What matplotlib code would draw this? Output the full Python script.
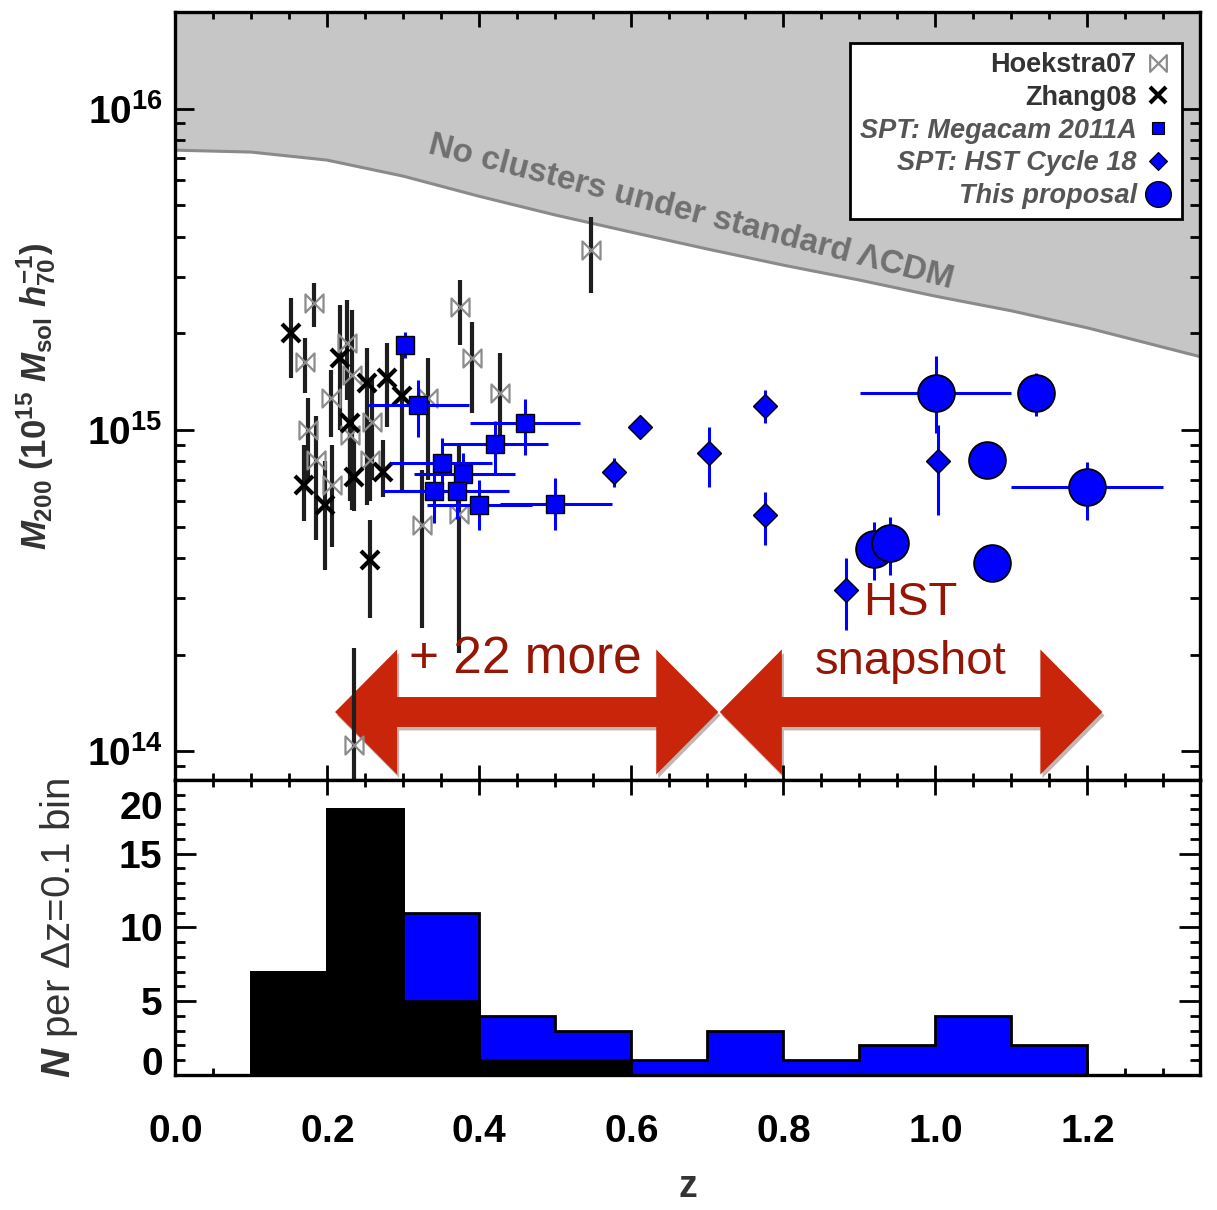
import numpy as np
import matplotlib
matplotlib.use("Agg")
import matplotlib.pyplot as plt
from matplotlib.path import Path
from matplotlib.lines import Line2D
from matplotlib.patches import Polygon
from matplotlib.transforms import blended_transform_factory, ScaledTranslation
from matplotlib.ticker import MultipleLocator, FixedLocator, LogLocator, FuncFormatter, NullFormatter
import matplotlib.patheffects as pe

plt.rcParams['font.family'] = ['Liberation Sans', 'DejaVu Sans']
plt.rcParams['mathtext.fontset'] = 'custom'
plt.rcParams['mathtext.rm'] = 'Liberation Sans:bold'
plt.rcParams['mathtext.it'] = 'Liberation Sans:bold:italic'
plt.rcParams['mathtext.bf'] = 'Liberation Sans:bold'

# ---------------- data (masses in units of 1e15 Msol/h70) ----------------
# Hoekstra 2007 weak-lensing clusters
hoek_z = [0.183, 0.171, 0.205, 0.175, 0.186, 0.206, 0.226, 0.233, 0.230, 0.259,
          0.257, 0.333, 0.375, 0.390, 0.428, 0.325, 0.373, 0.547, 0.236]
hoek_m = [2.48, 1.63, 1.26, 1.00, 0.807, 0.675, 1.86, 1.48, 0.965, 1.06,
          0.807, 1.26, 2.41, 1.67, 1.30, 0.506, 0.548, 3.63, 0.105]
hoek_lo = [2.09, 1.30, 0.951, 0.70, 0.455, 0.433, 1.24, 0.564, 0.60, 0.70,
           0.60, 0.70, 1.84, 1.13, 0.911, 0.242, 0.2025, 2.67, 0.0759]
hoek_hi = [2.87, 1.93, 1.54, 1.26, 1.11, 0.898, 2.54, 2.36, 1.30, 1.45,
           1.06, 1.67, 2.93, 2.17, 1.74, 0.751, 0.898, 4.61, 0.210]

# Zhang 2008 clusters
zhang_z = [0.152, 0.217, 0.253, 0.279, 0.299, 0.230, 0.274, 0.169, 0.235, 0.197, 0.257]
zhang_m = [2.00, 1.67, 1.40, 1.45, 1.28, 1.05, 0.740, 0.675, 0.714, 0.584, 0.394]
zhang_lo = [1.45, 1.00, 0.584, 1.02, 0.637, 0.75, 0.62, 0.52, 0.56, 0.367, 0.260]
zhang_hi = [2.57, 2.45, 1.80, 1.86, 1.86, 1.45, 0.93, 0.90, 0.93, 0.80, 0.525]

# SPT: Megacam 2011A
mega_z = [0.303, 0.320, 0.4605, 0.421, 0.351, 0.379, 0.340, 0.371, 0.400, 0.500]
mega_zlo = [0.303, 0.254, 0.388, 0.351, 0.283, 0.314, 0.274, 0.296, 0.331, 0.428]
mega_zhi = [0.303, 0.386, 0.533, 0.491, 0.417, 0.447, 0.439, 0.438, 0.469, 0.575]
mega_m = [1.84, 1.20, 1.05, 0.905, 0.791, 0.730, 0.648, 0.648, 0.585, 0.589]
mega_lo = [1.67, 0.953, 0.836, 0.735, 0.666, 0.62, 0.514, 0.53, 0.489, 0.489]
mega_hi = [2.02, 1.43, 1.25, 1.07, 0.944, 0.85, 0.751, 0.76, 0.700, 0.709]

# SPT: HST Cycle 18
hst_z = [0.577, 0.611, 0.702, 0.776, 0.776, 1.003, 0.882]
hst_m = [0.742, 1.02, 0.846, 1.19, 0.544, 0.801, 0.319]
hst_lo = [0.666, 1.02, 0.666, 1.05, 0.439, 0.544, 0.239]
hst_hi = [0.817, 1.02, 1.02, 1.33, 0.643, 1.04, 0.399]

# This proposal
prop_z = [1.001, 1.132, 1.068, 1.200, 0.919, 0.941, 1.074]
prop_zlo = [0.901, 1.132, 1.068, 1.100, 0.919, 0.941, 1.074]
prop_zhi = [1.100, 1.132, 1.068, 1.300, 0.919, 0.941, 1.074]
prop_m = [1.306, 1.306, 0.807, 0.666, 0.426, 0.446, 0.387]
prop_lo = [0.98, 1.11, 0.807, 0.525, 0.342, 0.354, 0.387]
prop_hi = [1.70, 1.50, 0.807, 0.797, 0.519, 0.538, 0.387]

# Exclusion curve: most massive cluster allowed in standard LCDM
lcdm_z = [0.0, 0.1, 0.2, 0.3, 0.4, 0.5, 0.6, 0.7, 0.8, 0.9, 1.0, 1.1, 1.2, 1.349]
lcdm_m = [7.43, 7.33, 6.92, 6.17, 5.34, 4.67, 4.13, 3.66, 3.26, 2.93, 2.61, 2.35, 2.08, 1.69]

# Redshift histogram (dz = 0.1)
bin_edges = [0.0, 0.1, 0.2, 0.3, 0.4, 0.5, 0.6, 0.7, 0.8, 0.9, 1.0, 1.1, 1.2, 1.3]
count_all = [0, 7, 18, 11, 4, 3, 1, 3, 1, 2, 4, 2, 0]
count_prev = [0, 7, 18, 5, 1, 1, 0, 0, 0, 0, 0, 0, 0]

legend_labels = ["Hoekstra07", "Zhang08", "SPT: Megacam 2011A", "SPT: HST Cycle 18", "This proposal"]

UNIT = 1e15
BLUE = '#0000ff'
ERRK = '#1e1e1e'
RED = '#c8250a'
DARKRED = '#961605'


def asarr(v):
    return np.asarray(v, dtype=float)


def yerr(m, lo, hi):
    m, lo, hi = asarr(m), asarr(lo), asarr(hi)
    return [(m - lo) * UNIT, (hi - m) * UNIT]


def xerr(z, lo, hi):
    z, lo, hi = asarr(z), asarr(lo), asarr(hi)
    return [z - lo, hi - z]


bowtie = Path([(-1, 1), (1, -1), (1, 1), (-1, -1), (-1, 1)],
              [Path.MOVETO, Path.LINETO, Path.LINETO, Path.LINETO, Path.CLOSEPOLY])

fig = plt.figure(figsize=(12.17, 12.10), dpi=100)
ax = fig.add_axes([0.1438, 0.3554, 0.8422, 0.6347])
axh = fig.add_axes([0.1438, 0.1116, 0.8422, 0.2438], sharex=ax)

# ---------------- mass vs redshift panel ----------------
ax.set_yscale('log')
ax.set_xlim(0.0, 1.348)
ax.set_ylim(8.15e13, 2.0e16)

ax.fill_between(lcdm_z, asarr(lcdm_m) * UNIT, 1e17, color='#c6c6c6', lw=0, zorder=0)
ax.plot(lcdm_z, asarr(lcdm_m) * UNIT, color='#8a8a8a', lw=2.2, zorder=1)
ax.text(0.679, 4.75e15, "No clusters under standard ΛCDM", rotation=-14.5,
        rotation_mode='anchor', ha='center', va='center', fontsize=24,
        fontweight='bold', color='#707070', zorder=1.5)


def double_arrow(a, z0, z1, yc, head_len, head_half, shaft_half):
    tr = blended_transform_factory(a.transData, a.transAxes)
    verts = [(z0, yc), (z0 + head_len, yc + head_half), (z0 + head_len, yc + shaft_half),
             (z1 - head_len, yc + shaft_half), (z1 - head_len, yc + head_half), (z1, yc),
             (z1 - head_len, yc - head_half), (z1 - head_len, yc - shaft_half),
             (z0 + head_len, yc - shaft_half), (z0 + head_len, yc - head_half)]
    p = Polygon(verts, closed=True, transform=tr, facecolor=RED, edgecolor='none', zorder=2,
                path_effects=[pe.SimplePatchShadow(offset=(1.5, -2.5), alpha=0.3), pe.Normal()])
    a.add_patch(p)


double_arrow(ax, 0.2105, 0.7145, 0.0885, 0.0816, 0.0814, 0.0195)
double_arrow(ax, 0.7165, 1.2197, 0.0885, 0.0816, 0.0814, 0.0195)
tr_text = blended_transform_factory(ax.transData, ax.transAxes)
ax.text(0.4605, 0.156, "+ 22 more", transform=tr_text, ha='center', va='center',
        fontsize=37, color=DARKRED, zorder=6)
ax.text(0.967, 0.2305, "HST", transform=tr_text, ha='center', va='center',
        fontsize=34, color=DARKRED, zorder=6)
ax.text(0.967, 0.1536, "snapshot", transform=tr_text, ha='center', va='center',
        fontsize=34, color=DARKRED, zorder=6)

# previous samples (black)
ax.errorbar(hoek_z, asarr(hoek_m) * UNIT, yerr=yerr(hoek_m, hoek_lo, hoek_hi), fmt='none',
            ecolor=ERRK, elinewidth=3, capsize=0, zorder=3)
ax.plot(hoek_z, asarr(hoek_m) * UNIT, ls='none', marker=bowtie, ms=13, mfc='none',
        mec='#8c8c8c', mew=1.6, zorder=4)
ax.errorbar(zhang_z, asarr(zhang_m) * UNIT, yerr=yerr(zhang_m, zhang_lo, zhang_hi), fmt='none',
            ecolor=ERRK, elinewidth=3, capsize=0, zorder=3)
ax.plot(zhang_z, asarr(zhang_m) * UNIT, ls='none', marker='x', ms=13, mec='black',
        mew=3, zorder=4)

# SPT samples (blue)
ax.errorbar(mega_z, asarr(mega_m) * UNIT, yerr=yerr(mega_m, mega_lo, mega_hi),
            xerr=xerr(mega_z, mega_zlo, mega_zhi), fmt='none', ecolor=BLUE,
            elinewidth=2.2, capsize=0, zorder=5)
ax.plot(mega_z, asarr(mega_m) * UNIT, ls='none', marker='s', ms=12.5, mfc=BLUE,
        mec='black', mew=1, zorder=6)
ax.errorbar(hst_z, asarr(hst_m) * UNIT, yerr=yerr(hst_m, hst_lo, hst_hi), fmt='none',
            ecolor=BLUE, elinewidth=2.2, capsize=0, zorder=5)
ax.plot(hst_z, asarr(hst_m) * UNIT, ls='none', marker='D', ms=12.5, mfc=BLUE,
        mec='black', mew=1, zorder=6)
ax.errorbar(prop_z, asarr(prop_m) * UNIT, yerr=yerr(prop_m, prop_lo, prop_hi),
            xerr=xerr(prop_z, prop_zlo, prop_zhi), fmt='none', ecolor=BLUE,
            elinewidth=2.2, capsize=0, zorder=5)
ax.plot(prop_z, asarr(prop_m) * UNIT, ls='none', marker='o', ms=26.5, mfc=BLUE,
        mec='black', mew=1.3, zorder=6)

handles = [
    Line2D([], [], ls='none', marker=bowtie, ms=12, mfc='none', mec='#8c8c8c', mew=1.6),
    Line2D([], [], ls='none', marker='x', ms=12, mec='black', mew=3),
    Line2D([], [], ls='none', marker='s', ms=8, mfc=BLUE, mec='black', mew=0.8),
    Line2D([], [], ls='none', marker='D', ms=9, mfc=BLUE, mec='black', mew=0.8),
    Line2D([], [], ls='none', marker='o', ms=18.5, mfc=BLUE, mec='black', mew=1.0),
]
leg = ax.legend(handles, legend_labels, loc='upper right', bbox_to_anchor=(0.982, 0.960),
                markerfirst=False, fontsize=19.5, frameon=True, fancybox=False,
                edgecolor='black', framealpha=1, borderpad=0.35, labelspacing=0.25,
                handlelength=1.0, handletextpad=0.3, borderaxespad=0)
leg.get_frame().set_linewidth(2)
leg.set_zorder(10)
for i, t in enumerate(leg.get_texts()):
    t.set_fontweight('bold')
    if i < 2:
        t.set_color('#333333')
    else:
        t.set_fontstyle('italic')
        t.set_color('#555555')

ax.yaxis.set_major_locator(LogLocator(base=10))
ax.yaxis.set_minor_locator(LogLocator(base=10, subs=np.arange(2, 10)))
ax.yaxis.set_minor_formatter(NullFormatter())
ax.yaxis.set_major_formatter(FuncFormatter(lambda v, p: r'$10^{%d}$' % round(np.log10(v))))
ax.tick_params(axis='y', which='major', length=14, width=2, direction='in',
               left=True, right=True, labelsize=28, pad=9)
ax.tick_params(axis='y', which='minor', length=7, width=2, direction='in', left=True, right=True)
ax.tick_params(axis='x', which='major', length=11, width=2, direction='in',
               top=True, bottom=True, labelbottom=False)
ax.tick_params(axis='x', which='minor', length=5, width=2, direction='in', top=True, bottom=True)
ax.set_ylabel(r'$M_{\mathrm{200}}$ (10$^{\mathrm{15}}$ $M_{\mathrm{sol}}$ $h_{\mathrm{70}}^{\mathrm{-1}}$)',
              fontsize=25, fontweight='bold', color='#333333')
ax.yaxis.set_label_coords(-0.114, 0.5)

# ---------------- histogram panel ----------------
axh.stairs(count_all, bin_edges, fill=True, facecolor=BLUE, edgecolor='black', lw=2, zorder=2)
axh.stairs(count_prev, bin_edges, fill=True, facecolor='black', edgecolor='black', lw=2, zorder=3)
axh.set_ylim(0, 20)
axh.xaxis.set_major_locator(MultipleLocator(0.2))
axh.xaxis.set_minor_locator(MultipleLocator(0.05))
axh.xaxis.set_major_formatter(FuncFormatter(lambda v, p: r'$\mathrm{%.1f}$' % v))
axh.yaxis.set_major_locator(FixedLocator([0, 5, 10, 15, 20]))
axh.yaxis.set_minor_locator(MultipleLocator(1))
axh.yaxis.set_major_formatter(FuncFormatter(lambda v, p: r'$\mathrm{%d}$' % round(v)))
axh.tick_params(axis='y', which='major', length=15, width=2, direction='in',
                left=True, right=True, labelsize=28, pad=9)
axh.tick_params(axis='y', which='minor', length=7, width=2, direction='in', left=True, right=True)
axh.tick_params(axis='x', which='major', length=11, width=2, direction='in',
                top=True, bottom=True, labelsize=28, pad=28)
axh.tick_params(axis='x', which='minor', length=5, width=2, direction='in', top=True, bottom=True)
axh.set_xlabel('z', fontsize=27, fontweight='bold', color='#333333')
axh.xaxis.set_label_coords(0.5, -0.4136)
axh.xaxis.label.set_va('baseline')
axh.set_ylabel(r'$N$ per Δz=0.1 bin', fontsize=29, color='#333333')
axh.yaxis.set_label_coords(-0.0927, 0.5)

for a in (ax, axh):
    for s in a.spines.values():
        s.set_linewidth(2.4)

ylabels = axh.get_yticklabels()
ylabels[0].set_va('baseline')
ylabels[-1].set_va('top')
ylabels[-1].set_transform(ylabels[-1].get_transform() +
                          ScaledTranslation(0, -8 / 72, fig.dpi_scale_trans))

fig.savefig('out.png', dpi=100)
